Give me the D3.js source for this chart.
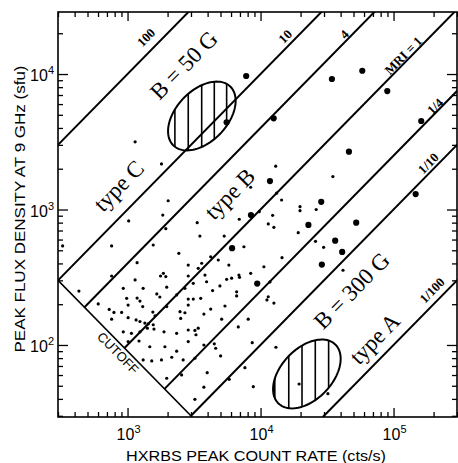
<!DOCTYPE html>
<html><head><meta charset="utf-8">
<script src="https://cdn.jsdelivr.net/npm/d3@7"></script>
<style>body{margin:0;background:#fff}svg{display:block}</style>
</head><body>
<svg id="chart" width="458" height="463"></svg>
<script>
// ---------------- data ----------------
// small dots: [HXRBS peak count rate (cts/s), peak flux density at 9 GHz (sfu)]
const smallDots = [
 [1140,3160],[1800,2170],[2020,1160],[1840,910],[1020,823],[1940,722],[759,538],[1560,547],
 [2430,475],[1180,405],[2860,389],[759,323],[1140,302],[1860,338],[1770,323],[1940,320],
 [2860,323],[929,262],[1310,262],[1970,267],[2700,262],[325,538],[431,250],[602,201],
 [985,221],[1180,222],[1240,211],[1660,238],[1750,226],[2340,234],[1010,197],[1300,192],
 [728,183],[790,174],[903,174],[759,155],[1010,159],[1160,153],[1240,149],[1550,175],
 [1610,164],[1970,192],[2480,176],[2700,173],[2860,197],[1350,145],[1430,143],[1560,141],
 [1410,133],[929,125],[1070,122],[1240,125],[1580,131],[1880,125],[2340,122],[2860,129],
 [1010,106],[1220,107],[1470,97],[1910,97],[2340,90],[2860,106],[1310,77.5],[1520,76.2],
 [1800,77.5],[2150,81.2],[2620,77.5],[1970,56.8],[13000,2090],[8430,1460],[13200,1320],
 [14400,1175],[9780,964],[6920,847],[12330,906],[19800,1050],[19800,980],[3340,800],
 [11430,782],[12600,739],[3500,637],[5330,637],[19200,674],[7500,531],[14500,441],
 [4220,448],[4810,424],[3400,368],[3610,401],[5780,389],[10600,378],[3820,328],[6880,328],
 [6950,316],[8430,338],[6060,311],[5560,305],[3120,285],[3930,293],[4950,273],[35000,1750],
 [26200,1000],[25900,582],[29800,526],[41700,356],[6610,247],[6610,230],[4360,252],
 [11430,227],[11170,215],[12600,204],[2860,218],[3120,218],[3550,221],[5400,194],[4220,184],
 [3750,169],[2510,157],[5100,155],[8080,155],[6800,136],[3400,133],[3210,128],[3270,119],
 [3750,100],[4490,102],[4600,94.6],[8660,104],[13050,96.2],[5010,83],[3210,79.8],[7630,68],
 [3970,62.5],[5820,55.8],[3750,48.8],[8820,49.2],[3210,39.7],[19500,51.5],[2550,60.1],
 [32100,43.7],[11770,292]
];
// large dots
const largeDots = [
 [7800,9670],[34400,9190],[58200,10570],[12550,4710],[89700,7490],[161500,4500],[46200,2670],
 [11770,1620],[146600,1300],[28600,1140],[8470,910],[22900,769],[52400,800],[6110,518],
 [36400,589],[41100,486],[28900,392],[9440,284],[5560,4400]
];
// MRI lines: F = MRI * R / 10
const mriValues = [100, 10, 4, 1, 0.25, 0.1, 0.01];
const mriLabels = ["100", "10", "4", "MRI = 1", "1/4", "1/10", "1/100"];
const mriLabelAt = [[1420,18100],[15800,18400],[43900,19100],[122000,13300],[212000,5610],[188000,2130],[201000,246]];
// cutoff: F * R = const
const cutoffProduct = 9e4;
// region labels
const regionLabels = ["B = 50 G", "type C", "type B", "B = 300 G", "type A"];
const regionLabelAt = [[2660,11600],[861,1490],[5890,1300],[48600,251],[72400,111]];
// hatched ellipses (centres in data units)
const ellipseCentres = [[3620,4900],[22300,61.1]];
const ellipseHatchR = [[2270,2860,3610,4490,5560],[12800,16300,20500,25800,32500]];
// axes
const xMajor = [1e3, 1e4, 1e5];
const xMajorExp = ["3", "4", "5"];
const yMajor = [1e2, 1e3, 1e4];
const yMajorExp = ["2", "3", "4"];
const xTitle = "HXRBS PEAK COUNT RATE (cts/s)";
const yTitle = "PEAK FLUX DENSITY AT 9 GHz (sfu)";

// ---------------- drawing ----------------
const svg = d3.select("#chart");
const L = 58, R = 457, T = 12, B = 417;
const x = d3.scaleLog().domain([300, 3e5]).range([L, R]);
const y = d3.scaleLog().domain([29.4, 28700]).range([B, T]);
const [x0, x1] = x.domain(), [y0, y1] = y.domain();
const ang = -Math.atan2(y(10) - y(100), x(100) - x(10)) * 180 / Math.PI;

const defs = svg.append("defs");
defs.append("clipPath").attr("id", "plotclip").append("rect")
  .attr("x", L).attr("y", T).attr("width", R - L).attr("height", B - T);

const plot = svg.append("g").attr("clip-path", "url(#plotclip)");

function minors(lo, hi) {
  const out = [];
  for (let e = Math.floor(Math.log10(lo)); e <= Math.ceil(Math.log10(hi)); e++)
    for (let m = 2; m <= 9; m++) { const v = m * Math.pow(10, e); if (v >= lo && v <= hi) out.push(v); }
  return out;
}
const xMinor = minors(x0, x1), yMinor = minors(y0, y1);

function tickAxis(axis, tf, vals, size) {
  const g = svg.append("g").attr("transform", tf)
    .call(axis.tickValues(vals).tickSize(size).tickSizeOuter(0).tickFormat(""));
  g.select(".domain").remove();
  g.selectAll("line").attr("stroke", "#000").attr("stroke-width", 1.3);
}
tickAxis(d3.axisBottom(x), `translate(0,${B})`, xMajor, -9);
tickAxis(d3.axisBottom(x), `translate(0,${B})`, xMinor, -5);
tickAxis(d3.axisTop(x), `translate(0,${T})`, xMajor, -9);
tickAxis(d3.axisTop(x), `translate(0,${T})`, xMinor, -5);
tickAxis(d3.axisLeft(y), `translate(${L},0)`, yMajor, -10);
tickAxis(d3.axisLeft(y), `translate(${L},0)`, yMinor, -5);
tickAxis(d3.axisRight(y), `translate(${R},0)`, yMajor, -10);
tickAxis(d3.axisRight(y), `translate(${R},0)`, yMinor, -5);

// MRI lines
const line = d3.line().x(d => x(d[0])).y(d => y(d[1]));
mriValues.forEach(m => {
  const k = m / 10;
  const rStart = Math.max(x0, Math.sqrt(cutoffProduct / k), y0 / k);
  const rEnd = Math.min(x1 * 1.05, y1 * 1.05 / k);
  plot.append("path").attr("d", line([[rStart, k * rStart], [rEnd, k * rEnd]]))
    .attr("fill", "none").attr("stroke", "#000").attr("stroke-width", 2);
});
// cutoff line
plot.append("path").attr("d", line([[x0, cutoffProduct / x0], [cutoffProduct / y0, y0]]))
  .attr("fill", "none").attr("stroke", "#000").attr("stroke-width", 1.6);

// ellipses
const ea = 0.305, eb = 0.19, eth = 45 * Math.PI / 180;
function ellipsePts(c) {
  const lx = Math.log10(c[0]), ly = Math.log10(c[1]), pts = [];
  for (let i = 0; i < 100; i++) {
    const t = i / 100 * 2 * Math.PI;
    const dx = ea * Math.cos(t) * Math.cos(eth) - eb * Math.sin(t) * Math.sin(eth);
    const dy = ea * Math.cos(t) * Math.sin(eth) + eb * Math.sin(t) * Math.cos(eth);
    pts.push([Math.pow(10, lx + dx), Math.pow(10, ly + dy)]);
  }
  return pts;
}
const closed = d3.line().x(d => x(d[0])).y(d => y(d[1])).curve(d3.curveLinearClosed);
ellipseCentres.forEach((c, i) => {
  const d = closed(ellipsePts(c));
  defs.append("clipPath").attr("id", "ell" + i).append("path").attr("d", d);
  const hg = plot.append("g").attr("clip-path", `url(#ell${i})`);
  ellipseHatchR[i].forEach(r => {
    hg.append("line").attr("x1", x(r)).attr("x2", x(r)).attr("y1", T).attr("y2", B)
      .attr("stroke", "#000").attr("stroke-width", 1.6);
  });
  plot.append("path").attr("d", d).attr("fill", "none").attr("stroke", "#000").attr("stroke-width", 2);
});

// dots
plot.selectAll("circle.s").data(smallDots).join("circle").attr("class", "s")
  .attr("cx", d => x(d[0])).attr("cy", d => y(d[1])).attr("r", 1.6).attr("fill", "#000");
plot.selectAll("circle.l").data(largeDots).join("circle").attr("class", "l")
  .attr("cx", d => x(d[0])).attr("cy", d => y(d[1])).attr("r", 3.1).attr("fill", "#000");

// MRI labels
mriLabels.forEach((t, i) => {
  const p = mriLabelAt[i];
  svg.append("text").text(t)
    .attr("transform", `translate(${x(p[0])},${y(p[1])}) rotate(${ang})`)
    .attr("text-anchor", "middle").attr("dominant-baseline", "central").attr("dy", -2.5)
    .attr("font-family", "'Liberation Serif', serif").attr("font-weight", "bold")
    .attr("font-size", 13).attr("fill", "#000");
});
// region labels
regionLabels.forEach((t, i) => {
  const p = regionLabelAt[i];
  svg.append("text").text(t)
    .attr("transform", `translate(${x(p[0])},${y(p[1])}) rotate(${ang})`)
    .attr("text-anchor", "middle").attr("dominant-baseline", "central")
    .attr("font-family", "'Liberation Serif', serif")
    .attr("font-size", 23).attr("fill", "#000");
});
// cutoff label
svg.append("text").text("CUTOFF")
  .attr("transform", `translate(${x(847)},${y(87.3)}) rotate(${-ang})`)
  .attr("text-anchor", "middle").attr("dominant-baseline", "central")
  .attr("font-family", "'Liberation Sans', Arial, sans-serif").attr("font-size", 13).attr("fill", "#000");

// border
svg.append("rect").attr("x", L).attr("y", T).attr("width", R - L).attr("height", B - T)
  .attr("fill", "none").attr("stroke", "#000").attr("stroke-width", 1.6);

// tick labels
const font = "'Liberation Sans', Arial, sans-serif";
xMajor.forEach((v, i) => {
  const t = svg.append("text").attr("x", x(v) + 1).attr("y", 440).attr("text-anchor", "middle")
    .attr("font-family", font).attr("font-size", 16).attr("fill", "#000");
  t.append("tspan").text("10");
  t.append("tspan").text(xMajorExp[i]).attr("font-size", 11).attr("dy", -7);
});
yMajor.forEach((v, i) => {
  const t = svg.append("text").attr("x", 54).attr("y", y(v) + 7).attr("text-anchor", "end")
    .attr("font-family", font).attr("font-size", 16).attr("fill", "#000");
  t.append("tspan").text("10");
  t.append("tspan").text(yMajorExp[i]).attr("font-size", 11).attr("dy", -7);
});
// axis titles
svg.append("text").text(xTitle).attr("x", 256).attr("y", 461).attr("text-anchor", "middle")
  .attr("font-family", font).attr("font-size", 15.5).attr("fill", "#000")
  .attr("textLength", 260).attr("lengthAdjust", "spacingAndGlyphs");
svg.append("text").text(yTitle).attr("transform", "translate(25,209) rotate(-90)")
  .attr("text-anchor", "middle").attr("font-family", font).attr("font-size", 15.5).attr("fill", "#000")
  .attr("textLength", 287).attr("lengthAdjust", "spacingAndGlyphs");
</script>
</body></html>
